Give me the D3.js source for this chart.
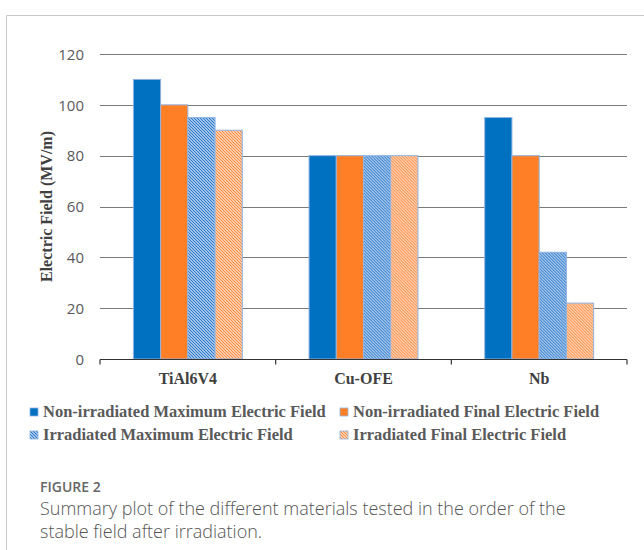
<!DOCTYPE html>
<html>
<head>
<meta charset="utf-8">
<script src="https://cdn.jsdelivr.net/npm/d3@7/dist/d3.min.js"></script>
<style>
  html, body { margin: 0; padding: 0; background: #fff; }
  svg { display: block; }
</style>
</head>
<body>
<script>
const categories = ["TiAl6V4", "Cu-OFE", "Nb"];
const seriesNames = [
  "Non-irradiated Maximum Electric Field",
  "Non-irradiated Final Electric Field",
  "Irradiated Maximum Electric Field",
  "Irradiated Final Electric Field"
];
const nonIrrMax = [110, 80, 95];
const nonIrrFinal = [100, 80, 80];
const irrMax = [95, 80, 42];
const irrFinal = [90, 80, 22];
const yTicks = [0, 20, 40, 60, 80, 100, 120];
const yTitle = "Electric Field (MV/m)";
const figLabel = "FIGURE 2";
const captionLines = [
  "Summary plot of the different materials tested in the order of the",
  "stable field after irradiation."
];
</script>
<script>
const seriesValues = [nonIrrMax, nonIrrFinal, irrMax, irrFinal];
const W = 644, H = 550;
const svg = d3.select("body").append("svg").attr("width", W).attr("height", H);

const defs = svg.append("defs");
function hatch(id, color) {
  const p = defs.append("pattern").attr("id", id)
    .attr("patternUnits", "userSpaceOnUse").attr("width", 3).attr("height", 3);
  p.append("rect").attr("width", 3).attr("height", 3).attr("fill", "#fff");
  p.append("path").attr("d", "M-1,-1 L4,4 M-1,2 L1,4 M2,-1 L4,1")
    .attr("stroke", color).attr("stroke-width", 1.3);
}
hatch("hBlue", "#2a78cc");
hatch("hOrange", "#ff8c40");
const fills = ["#0070c0", "#ff7f27", "url(#hBlue)", "url(#hOrange)"];

// frame
svg.append("line").attr("x1", 6.5).attr("x2", W).attr("y1", 15.5).attr("y2", 15.5).attr("stroke", "#c8c8c8");
svg.append("line").attr("x1", 6.5).attr("x2", 6.5).attr("y1", 15.5).attr("y2", H).attr("stroke", "#c8c8c8");

const x0 = d3.scaleBand().domain(categories).range([100, 627]).paddingInner(0).paddingOuter(0);
const x1 = d3.scaleBand().domain(d3.range(4)).range([x0.bandwidth() * 0.19, x0.bandwidth() * 0.81]);
const y = d3.scaleLinear().domain([0, 120]).range([359, 54]);

// gridlines
svg.append("g").selectAll("line").data(yTicks.filter(d => d > 0)).join("line")
  .attr("x1", 100).attr("x2", 627)
  .attr("y1", d => Math.round(y(d)) + 0.5).attr("y2", d => Math.round(y(d)) + 0.5)
  .attr("stroke", "#7a7a7a").attr("stroke-width", 1);

// y tick labels
const yAxis = svg.append("g").attr("transform", "translate(100,0)")
  .call(d3.axisLeft(y).tickValues(yTicks).tickSize(0).tickPadding(16));
yAxis.select(".domain").remove();
yAxis.selectAll("text").attr("font-family", "'Open Sans', sans-serif").attr("font-size", 15)
  .attr("fill", "#595959").attr("dy", "0.35em");

// bars
const groups = svg.append("g").selectAll("g").data(categories).join("g")
  .attr("transform", d => `translate(${x0(d)},0)`);
groups.selectAll("rect").data((c, ci) => seriesValues.map((s, si) => ({si, v: s[ci]}))).join("rect")
  .attr("x", d => x1(d.si)).attr("width", x1.bandwidth())
  .attr("y", d => y(d.v)).attr("height", d => y(0) - y(d.v))
  .attr("fill", d => fills[d.si])
  .attr("stroke", "#8eb4e3").attr("stroke-width", 1);

// x axis
const xAxis = svg.append("g").attr("transform", "translate(0,359.5)");
xAxis.append("line").attr("x1", 100).attr("x2", 627).attr("stroke", "#333").attr("stroke-width", 1.2);
const bounds = [100, ...categories.map(c => x0(c) + x0.bandwidth())];
xAxis.selectAll("line.t").data(bounds).join("line").attr("class", "t")
  .attr("x1", d => d).attr("x2", d => d).attr("y1", 0).attr("y2", 5)
  .attr("stroke", "#333").attr("stroke-width", 1.2);
svg.append("g").selectAll("text").data(categories).join("text")
  .attr("x", d => x0(d) + x0.bandwidth() / 2).attr("y", 384)
  .attr("text-anchor", "middle")
  .attr("font-family", "'Liberation Serif', 'Times New Roman', serif").attr("font-weight", "bold")
  .attr("font-size", 16).attr("fill", "#404040").text(d => d);

// y title
svg.append("text").attr("transform", `translate(52,${(54 + 359) / 2}) rotate(-90)`)
  .attr("text-anchor", "middle")
  .attr("font-family", "'Liberation Serif', 'Times New Roman', serif").attr("font-weight", "bold")
  .attr("font-size", 16).attr("fill", "#404040").text(yTitle);

// legend
const legPos = [[30, 417], [340, 417], [30, 440], [340, 440]];
const leg = svg.append("g").selectAll("g").data(seriesNames).join("g")
  .attr("transform", (d, i) => `translate(${legPos[i][0]},${legPos[i][1]})`);
leg.append("rect").attr("x", 0).attr("y", -9).attr("width", 8).attr("height", 8)
  .attr("fill", (d, i) => fills[i]).attr("stroke", "#8eb4e3").attr("stroke-width", 0.8);
leg.append("text").attr("x", 13).attr("y", 0)
  .attr("font-family", "'Liberation Serif', 'Times New Roman', serif").attr("font-weight", "bold")
  .attr("font-size", 16.5).attr("fill", "#595959").text(d => d);

// caption
svg.append("text").attr("x", 40).attr("y", 492)
  .attr("font-family", "'Open Sans', sans-serif").attr("font-weight", 600)
  .attr("font-size", 14).attr("fill", "#666").text(figLabel);
svg.append("g").selectAll("text").data(captionLines).join("text")
  .attr("x", 40).attr("y", (d, i) => 515 + i * 23)
  .attr("font-family", "'Open Sans', sans-serif").attr("font-weight", 300)
  .attr("font-size", 18).attr("fill", "#555").text(d => d);
</script>
</body>
</html>
